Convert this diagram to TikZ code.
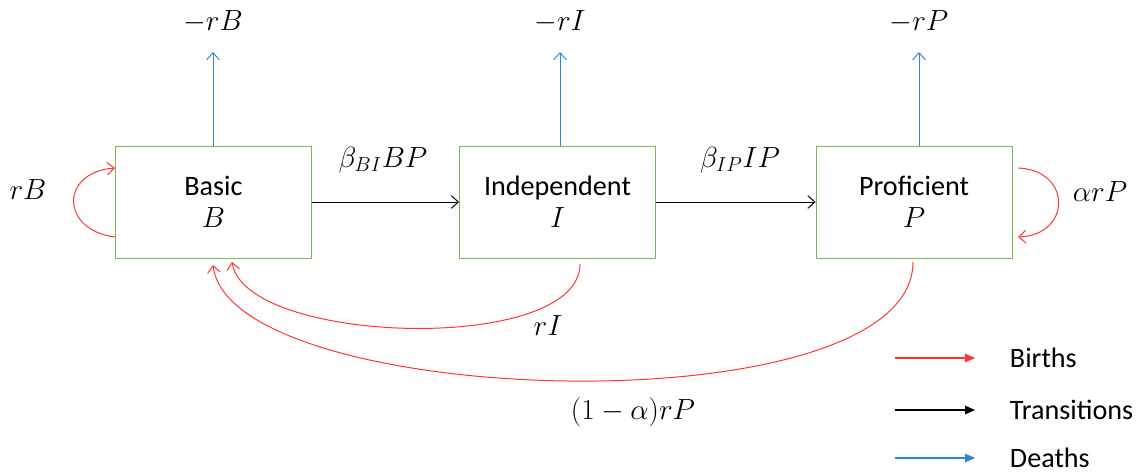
\documentclass[tikz,border=0pt]{standalone}
\usepackage{fontspec}
\usepackage{amsmath}
\setmainfont{Carlito}
\usetikzlibrary{arrows.meta,calc}
\definecolor{srBirth}{HTML}{FF3333}
\definecolor{srDeath}{HTML}{2E86D0}
\definecolor{srBox}{HTML}{7CB855}

\tikzset{
  stagebox/.style={draw=srBox, line width=0.6pt, minimum width=4.9cm, minimum height=2.8cm,
    align=center, font=\fontsize{20}{23}\selectfont},
  rate/.style={font=\fontsize{20}{24}\selectfont},
  legtext/.style={anchor=west, font=\fontsize{20}{24}\selectfont},
  birth/.style={draw=srBirth, line width=0.7pt, -{Straight Barb[length=5pt,width=9pt]}},
  trans/.style={draw=black, line width=0.7pt, -{Straight Barb[length=5pt,width=9pt]}},
  death/.style={draw=srDeath, line width=0.7pt, -{Straight Barb[length=5pt,width=9pt]}},
  legline/.style={line width=0.8pt, -{Triangle[length=7pt,width=6pt]}}
}

\begin{document}
\begin{tikzpicture}[x=0.025cm, y=-0.025cm]
  \useasboundingbox (0,0) rectangle (1141,473);
  % stages
  \node[stagebox] (B) at (213.5,202) {Basic\\$B$};
  \node[stagebox] (I) at (557.5,202) {Independent\\$I$};
  \node[stagebox] (P) at (914,202) {Proficient\\$P$};
  % deaths
  \node[rate] (dB) at (213,22) {$-rB$};
  \node[rate] (dI) at (560,22) {$-rI$};
  \node[rate] (dP) at (919,22) {$-rP$};
  \coordinate (tB) at (213,52);
  \coordinate (tI) at (560,52);
  \coordinate (tP) at (919,52);
  \draw[death] (B.north -| tB) -- (tB);
  \draw[death] (I.north -| tI) -- (tI);
  \draw[death] (P.north -| tP) -- (tP);
  % transitions
  \draw[trans] (B.east) -- (I.west);
  \draw[trans] (I.east) -- (P.west);
  \node[rate] (tBI) at (383,160) {$\beta_{BI}BP$};
  \node[rate] (tIP) at (740,160) {$\beta_{IP}IP$};
  % births
  \coordinate (bB1) at (115,237);
  \coordinate (bB2) at (115,168);
  \draw[birth] (bB1) .. controls (60,230) and (60,172) .. (bB2);
  \node[rate] (rB) at (28,190) {$rB$};
  \coordinate (bP1) at (1018,168);
  \coordinate (bP2) at (1018,237);
  \draw[birth] (bP1) .. controls (1072,170) and (1072,235) .. (bP2);
  \node[rate] (arP) at (1100,192) {$\alpha rP$};
  \coordinate (bI1) at (580,264);
  \coordinate (bI2) at (232,262);
  \draw[birth] (bI1) .. controls (580,355) and (245,345) .. (bI2);
  \node[rate] (rI) at (548,326) {$rI$};
  \coordinate (bP3) at (913,262);
  \coordinate (bP4) at (213,265);
  \draw[birth] (bP3) .. controls (913,430) and (230,410) .. (bP4);
  \node[rate] (oarP) at (633,412) {$(1-\alpha)rP$};
  % legend
  \coordinate (lb1) at (895,358); \coordinate (lb2) at (975,358);
  \coordinate (lt1) at (895,410); \coordinate (lt2) at (975,410);
  \coordinate (ld1) at (895,458); \coordinate (ld2) at (975,458);
  \draw[legline, srBirth] (lb1) -- (lb2);
  \draw[legline, black] (lt1) -- (lt2);
  \draw[legline, srDeath] (ld1) -- (ld2);
  \node[legtext] (lBirths) at (1005,358) {Births};
  \node[legtext] (lTrans) at (1005,410) {Transitions};
  \node[legtext] (lDeaths) at (1005,458) {Deaths};
\end{tikzpicture}
\end{document}
